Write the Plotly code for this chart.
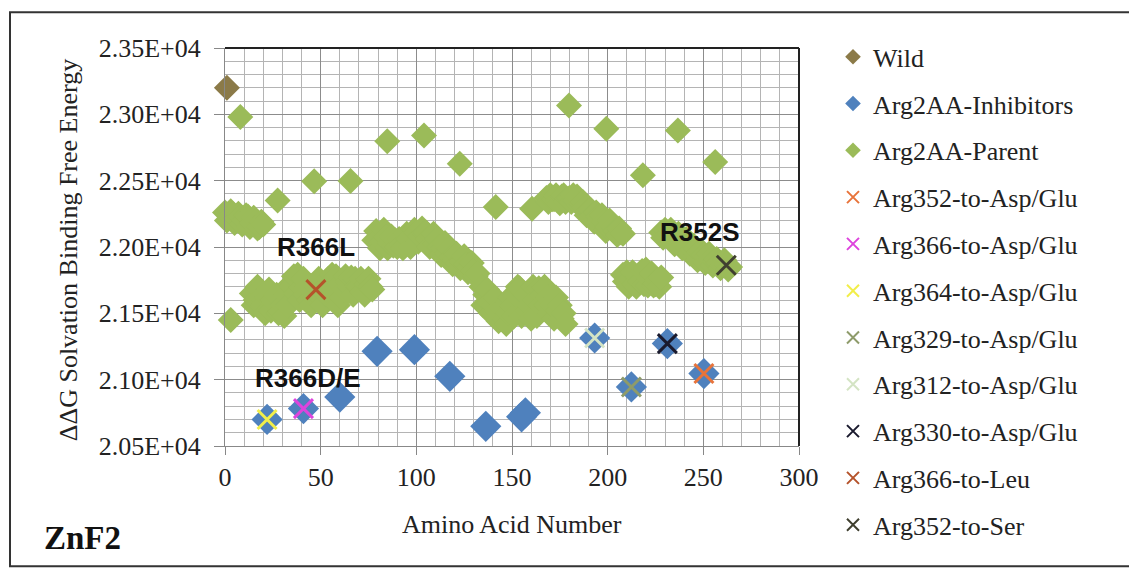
import plotly.graph_objects as go

# ---------------- data ----------------
wild_x = [1]
wild_y = [23200]

inhib_x = [22, 41, 60, 79.5, 99, 117.5, 136.3, 155, 157, 193.2, 212.4, 231.2, 250.3]
inhib_y = [20700, 20782, 20869, 21214, 21226, 21025, 20648, 20720, 20750, 21314, 20945, 21272, 21046]

parent_x = [
    # band near 0-20
    0, 1, 2, 3, 4, 5, 6, 7, 8, 9, 10, 11, 12, 13, 14, 15, 16, 17, 18, 19, 20,
    # isolated points
    3, 8, 27.5, 46.6, 65.6, 84.8, 104, 122.7, 141.5, 160.5, 179.8, 199.3, 218.4, 236.7, 256.2,
    # band 14-77
    14, 15, 16, 17, 18, 19, 20, 21, 22, 23, 24, 25, 26, 27, 28, 29, 30, 31, 32, 33,
    34, 35, 36, 37, 38, 39, 40, 41, 42, 43, 44, 45, 46, 47, 48, 49, 50, 51, 52, 53,
    54, 55, 56, 57, 58, 59, 60, 61, 62, 63, 64, 65, 66, 67, 68, 69, 70, 71, 72, 73,
    74, 75, 76, 77,
    # band 78-132
    78, 79, 80, 81, 82, 83, 84, 85, 86, 87, 88, 89, 90, 91, 92, 93, 94, 95, 96, 97,
    98, 99, 100, 101, 102, 103, 104, 105, 106, 107, 108, 109, 110, 111, 112, 113,
    114, 115, 116, 117, 118, 119, 120, 121, 122, 123, 124, 125, 126, 127, 128, 129,
    130, 131, 132,
    # band 134-178
    134, 135, 136, 137, 138, 139, 140, 141, 142, 143, 144, 145, 146, 147, 148, 149,
    150, 151, 152, 153, 154, 155, 156, 157, 158, 159, 160, 161, 162, 163, 164, 165,
    166, 167, 168, 169, 170, 171, 172, 173, 174, 175, 176, 177, 178,
    # band 168-208
    168, 169, 170, 171, 172, 173, 174, 175, 176, 177, 178, 179, 180, 181, 182, 183,
    184, 185, 186, 187, 188, 189, 190, 191, 192, 193, 194, 195, 196, 197, 198, 199,
    200, 201, 202, 203, 204, 205, 206, 207, 208,
    # band 208-228
    208, 209, 210, 211, 212, 213, 214, 215, 216, 217, 218, 219, 220, 221, 222, 223,
    224, 225, 226, 227, 228,
    # band 228-264
    228, 229, 230, 231, 232, 233, 234, 235, 236, 237, 238, 239, 240, 241, 242, 243,
    244, 245, 246, 247, 248, 249, 250, 251, 252, 253, 254, 255, 256, 257, 258, 259,
    260, 261, 262, 263, 264,
]
parent_y = [
    22260, 22200, 22240, 22270, 22250, 22180, 22220, 22250, 22230, 22170, 22200, 22240,
    22230, 22150, 22180, 22220, 22200, 22140, 22150, 22190, 22170,
    21450, 22980, 22350, 22495, 22497, 22798, 22841, 22628, 22301, 22289, 23067, 22892, 22540, 22879, 22640,
    21650, 21560, 21600, 21700, 21680, 21620, 21560, 21500, 21620, 21680, 21520, 21600, 21580, 21640,
    21500, 21520, 21560, 21480, 21640, 21560, 21720, 21700, 21780, 21650, 21790, 21600, 21700, 21760,
    21640, 21700, 21600, 21560, 21660, 21620, 21700, 21760, 21620, 21560, 21700, 21640, 21760, 21700,
    21790, 21620, 21780, 21560, 21720, 21620, 21680, 21780, 21740, 21700, 21770, 21640, 21760, 21700,
    21700, 21760, 21660, 21640, 21720, 21760, 21700, 21680,
    22050, 22120, 22060, 21990, 22040, 22130, 22080, 21990, 22030, 22080, 22010, 22050, 22000, 22060,
    22020, 21990, 22010, 22100, 22060, 22000, 22090, 22130, 22110, 22040, 22080, 22140, 22100, 22110,
    22060, 22000, 22080, 22100, 22020, 22060, 22000, 21940, 21990, 22030, 21950, 21990, 21920, 21870,
    21900, 21950, 21880, 21840, 21890, 21930, 21870, 21810, 21850, 21880, 21820, 21780, 21800,
    21700, 21560, 21640, 21680, 21580, 21500, 21560, 21620, 21520, 21440, 21480, 21540, 21460, 21420,
    21500, 21620, 21560, 21480, 21640, 21700, 21690, 21480, 21600, 21640, 21520, 21560, 21460, 21700,
    21600, 21480, 21690, 21560, 21640, 21700, 21560, 21620, 21500, 21560, 21460, 21620, 21520, 21560,
    21460, 21500, 21420,
    22370, 22340, 22390, 22360, 22360, 22390, 22350, 22330, 22380, 22390, 22340, 22360, 22370, 22340,
    22390, 22350, 22380, 22320, 22330, 22340, 22300, 22240, 22270, 22280, 22240, 22190, 22260, 22230,
    22200, 22240, 22190, 22120, 22150, 22200, 22180, 22150, 22120, 22090, 22140, 22110, 22100,
    21790, 21740, 21810, 21700, 21760, 21810, 21720, 21700, 21780, 21740, 21820, 21720, 21830, 21710,
    21760, 21800, 21710, 21720, 21750, 21700, 21770,
    22110, 22070, 22130, 22090, 22100, 22130, 22080, 22020, 22060, 22100, 22050, 21990, 22020, 22060,
    22000, 21950, 21980, 22010, 21990, 21900, 21960, 21970, 21940, 21880, 21930, 21950, 21910, 21860,
    21890, 21910, 21880, 21840, 21860, 21900, 21870, 21830, 21850,
]

mut_names = ["Arg352-to-Asp/Glu", "Arg366-to-Asp/Glu", "Arg364-to-Asp/Glu", "Arg329-to-Asp/Glu",
             "Arg312-to-Asp/Glu", "Arg330-to-Asp/Glu", "Arg366-to-Leu", "Arg352-to-Ser"]
mut_x = [250.3, 41, 22, 212.4, 193.2, 231.2, 47.5, 262]
mut_y = [21046, 20782, 20700, 20945, 21314, 21272, 21679, 21862]
mut_colors = ["#E8743B", "#DD44DD", "#F2EE4A", "#8E9B6A", "#D4E4C4", "#1A1A2E", "#B5532B", "#404030"]

x_ticks = [0, 50, 100, 150, 200, 250, 300]
y_ticks = [20500, 21000, 21500, 22000, 22500, 23000, 23500]
y_ticktext = ["2.05E+04", "2.10E+04", "2.15E+04", "2.20E+04", "2.25E+04", "2.30E+04", "2.35E+04"]

labels = ["R366L", "R352S", "R366D/E"]
label_x = [47.5, 248, 43.3]
label_y = [22000, 22110, 21010]

# ---------------- figure ----------------
SERIF = "Liberation Serif"
fig = go.Figure()

fig.add_trace(go.Scatter(x=wild_x, y=wild_y, mode="markers", name="Wild", legendgroup="g0",
                         cliponaxis=False,
                         marker=dict(symbol="diamond", size=20, color="#8B7A48")))
fig.add_trace(go.Scatter(x=inhib_x, y=inhib_y, mode="markers", name="Arg2AA-Inhibitors",
                         legendgroup="g1", cliponaxis=False,
                         marker=dict(symbol="diamond", size=24, color="#4F81BD")))
fig.add_trace(go.Scatter(x=parent_x, y=parent_y, mode="markers", name="Arg2AA-Parent",
                         legendgroup="g2", cliponaxis=False,
                         marker=dict(symbol="diamond", size=20, color="#9BBB59")))
for i, nm in enumerate(mut_names):
    fig.add_trace(go.Scatter(x=[mut_x[i]], y=[mut_y[i]], mode="markers", name=nm,
                             legendgroup="m%d" % i, cliponaxis=False,
                             marker=dict(symbol="x-thin", size=19, color=mut_colors[i],
                                         line=dict(width=3, color=mut_colors[i]))))

for t, lx, ly in zip(labels, label_x, label_y):
    fig.add_annotation(x=lx, y=ly, text="<b>%s</b>" % t, showarrow=False,
                       xanchor="center", yanchor="middle",
                       font=dict(family="Liberation Sans", size=26, color="#111"))

# axis titles and panel label
fig.add_annotation(xref="paper", yref="paper", x=(68 - 225) / 574.0, y=(445.7 - 250) / 398.0,
                   text="\u0394\u0394G Solvation Binding Free Energy", textangle=-90,
                   showarrow=False, xanchor="center", yanchor="middle",
                   font=dict(family=SERIF, size=26, color="#222"))
fig.add_annotation(xref="paper", yref="paper", x=0.5, y=-(524 - 445.7) / 398.0,
                   text="Amino Acid Number", showarrow=False, xanchor="center", yanchor="middle",
                   font=dict(family=SERIF, size=26, color="#222"))
fig.add_annotation(xref="paper", yref="paper", x=(82 - 225) / 574.0, y=-(538 - 445.7) / 398.0,
                   text="<b>ZnF2</b>", showarrow=False, xanchor="center", yanchor="middle",
                   font=dict(family=SERIF, size=33, color="#111"))

# plot border top/right and outer frame
fig.add_shape(type="line", xref="paper", yref="paper", x0=0, x1=1, y0=1, y1=1,
              line=dict(color="#222", width=2))
fig.add_shape(type="line", xref="paper", yref="paper", x0=1, x1=1, y0=0, y1=1,
              line=dict(color="#222", width=2))
fig.add_shape(type="rect", xref="paper", yref="paper",
              x0=(10 - 225) / 574.0, x1=(1135 - 225) / 574.0,
              y0=-(566 - 445.7) / 398.0, y1=(445.7 - 12) / 398.0,
              line=dict(color="#333", width=2), layer="below")

fig.update_xaxes(range=[0, 300], tickvals=x_ticks, ticks="outside", ticklen=8, tickcolor="#888",
                 showgrid=True, gridcolor="#8c8c8c", gridwidth=1.2,
                 minor=dict(dtick=10, tick0=0, showgrid=True, gridcolor="#b4b4b4", gridwidth=1),
                 showline=True, linecolor="#888", linewidth=1.2, zeroline=False,
                 tickfont=dict(family=SERIF, size=26, color="#222"))
fig.update_yaxes(range=[20500, 23500], tickvals=y_ticks, ticktext=y_ticktext,
                 ticks="outside", ticklen=10, tickcolor="#888", ticklabelstandoff=8,
                 showgrid=True, gridcolor="#8c8c8c", gridwidth=1.2,
                 minor=dict(dtick=100, tick0=20500, showgrid=True, gridcolor="#b4b4b4", gridwidth=1),
                 showline=True, linecolor="#888", linewidth=1.2, zeroline=False,
                 tickfont=dict(family=SERIF, size=26, color="#222"))

fig.update_layout(
    width=1129, height=568,
    margin=dict(l=225, r=330, t=48, b=122),
    paper_bgcolor="white", plot_bgcolor="white",
    showlegend=True,
    legend=dict(x=(833 - 225) / 574.0, y=(445.7 - 33) / 398.0, xanchor="left", yanchor="top",
                font=dict(family=SERIF, size=26, color="#222"), maxheight=560,
                tracegroupgap=10, itemsizing="constant", bgcolor="rgba(0,0,0,0)"),
)

fig.write_html("out.html", config={"displayModeBar": False},
               post_script="document.body.style.margin='0';")
